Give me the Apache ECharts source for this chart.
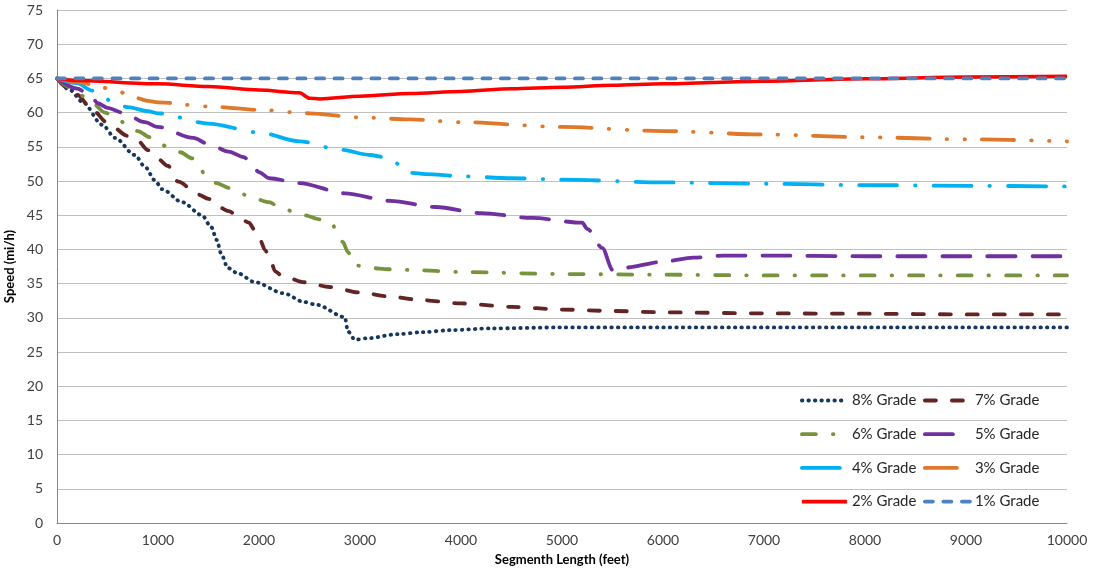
<!DOCTYPE html>
<html>
<head>
<meta charset="utf-8">
<script src="https://cdn.jsdelivr.net/npm/echarts@6/dist/echarts.min.js"></script>
<style>
html,body{margin:0;padding:0;background:#fff;}
#c{width:1098px;height:569px;}
</style>
</head>
<body>
<div id="c"></div>
<script>
// ---- data (x: segment length in feet, y: speed in mi/h) ----
const grade8 = [[0,65],[130,63.3],[250,61.6],[450,58.2],[575,56.3],[770,53.8],[870,52.1],[970,50.1],[1040,48.8],[1240,46.9],[1435,45.0],[1530,43.2],[1580,41.4],[1630,39.2],[1690,37.3],[1790,36.5],[1960,35.2],[2240,33.6],[2450,32.3],[2570,31.9],[2850,30.1],[2880,28.0],[2950,26.8],[3070,27.0],[3370,27.6],[3620,27.9],[3900,28.2],[4300,28.45],[5000,28.6],[6000,28.6],[7000,28.6],[8000,28.6],[9000,28.6],[10000,28.6]];
const grade7 = [[0,65],[200,62.6],[350,60.4],[500,58.5],[700,56.6],[800,55.9],[900,54.5],[1000,53.2],[1100,52.2],[1200,49.9],[1400,48.0],[1500,47.4],[1600,46.2],[1700,45.6],[1800,44.7],[1900,43.9],[1960,42.8],[2010,41.4],[2060,39.9],[2110,38.6],[2160,36.8],[2230,36.1],[2450,35.2],[2700,34.5],[3000,33.7],[3300,33.1],[3600,32.6],[4000,32.1],[4500,31.6],[5000,31.2],[5500,31.0],[6000,30.8],[7000,30.65],[8000,30.6],[9000,30.5],[10000,30.5]];
const grade6 = [[0,65],[150,63.5],[300,62.1],[350,61.4],[475,60.0],[600,59.0],[700,58.2],[800,57.3],[920,56.4],[1100,55.0],[1220,54.2],[1340,53.3],[1400,52.3],[1470,50.8],[1580,49.7],[1700,49.0],[1800,48.4],[1900,47.7],[2100,46.9],[2200,46.2],[2350,45.5],[2450,45.0],[2600,44.4],[2720,43.9],[2770,42.5],[2830,41.1],[2880,39.6],[2950,37.7],[3080,37.3],[3300,37.1],[3500,37.0],[4000,36.7],[5000,36.4],[6000,36.3],[7000,36.2],[8000,36.2],[9000,36.2],[10000,36.2]];
const grade5 = [[0,65],[200,63.5],[340,62.4],[400,61.4],[500,60.7],[650,60.0],[870,58.6],[1000,57.9],[1350,56.3],[1500,55.4],[1700,54.3],[1850,53.5],[1900,53.0],[2000,51.3],[2100,50.4],[2400,49.7],[2850,48.2],[3300,47.1],[3750,46.2],[4200,45.3],[4700,44.6],[5200,43.9],[5250,43.0],[5400,40.2],[5500,37.0],[5600,37.3],[6000,38.2],[6300,38.8],[6600,39.1],[7000,39.1],[8000,39.0],[9000,39.0],[10000,39.0]];
const grade4 = [[0,65],[200,64.3],[350,63.2],[450,62.4],[550,61.5],[700,60.8],[900,60.2],[1000,59.9],[1500,58.4],[2000,57.1],[2400,55.8],[2800,54.6],[3100,53.8],[3300,53.3],[3400,52.3],[3500,51.2],[3650,51.0],[4000,50.7],[4500,50.4],[5000,50.2],[6000,49.8],[7000,49.6],[8000,49.4],[9000,49.3],[10000,49.2]];
const grade3 = [[0,65],[250,64.4],[400,63.8],[600,63.2],[700,62.6],[800,62.1],[900,61.7],[1000,61.5],[1500,60.9],[2000,60.4],[2500,59.9],[3000,59.3],[3500,59.0],[4000,58.6],[5000,57.9],[6000,57.3],[7000,56.8],[8000,56.4],[9000,56.1],[10000,55.8]];
const grade2 = [[0,65],[200,64.7],[1000,64.2],[1500,63.8],[2000,63.3],[2400,62.9],[2500,62.1],[2600,62.0],[3000,62.4],[3500,62.8],[4000,63.1],[4500,63.5],[5000,63.7],[5500,64.0],[6000,64.2],[7000,64.6],[8000,64.95],[9000,65.2],[10000,65.3]];
const grade1 = [[0,65],[1000,65],[2000,65],[3000,65],[4000,65],[5000,65],[6000,65],[7000,65],[8000,65],[9000,65],[10000,65]];

const seriesNames = ['8% Grade','7% Grade','6% Grade','5% Grade','4% Grade','3% Grade','2% Grade','1% Grade'];
const seriesData = [grade8, grade7, grade6, grade5, grade4, grade3, grade2, grade1];
const xTicks = {min:0, max:10000, interval:1000};
const yTicks = {min:0, max:75, interval:5};

// ---- styles ----
const colors = ['#17375e','#632523','#77933c','#7030a0','#00b0f0','#e0782a','#ff0000','#4f81bd'];
const dashes = [[0.5,6],[11,16],[14,17,0.5,17],[28,17],[38,18,0.5,18],[32,17,0.5,17.5,0.5,17],'solid',[8,10.5]];
const widths = [3.8,3.8,3.8,3.8,3.8,3.8,3.5,3.8];

const FONT = 'Lato';

const series = seriesNames.map((n,i)=>({
  name:n, type:'line', data:seriesData[i], showSymbol:false, symbol:'none',
  smooth:0.3, smoothMonotone:'x', z: 2+i,
  lineStyle:{color:colors[i], width:widths[i], type:dashes[i], cap: dashes[i]==='solid'?'butt':'round', join:'round'},
  itemStyle:{color:colors[i]}
}));

const legendCommon = {
  orient:'vertical', itemWidth:45, itemHeight:14, itemGap:18.7, padding:0,
  itemStyle:{opacity:0},
  lineStyle:{width:3.8},
  textStyle:{fontFamily:FONT, fontSize:15, color:'#262626'}
};

const chart = echarts.init(document.getElementById('c'), null, {renderer:'canvas'});
chart.setOption({
  animation:false,
  backgroundColor:'#ffffff',
  grid:{left:57, right:31, top:10, bottom:46, containLabel:false, outerBoundsMode:'none'},
  legend:[
    Object.assign({}, legendCommon, {left:800, top:393, data:['8% Grade','6% Grade','4% Grade','2% Grade']}),
    Object.assign({}, legendCommon, {left:923, top:393, data:['7% Grade','5% Grade','3% Grade','1% Grade']})
  ],
  xAxis:{
    type:'value', min:xTicks.min, max:xTicks.max, interval:xTicks.interval,
    name:'Segmenth Length (feet)', nameLocation:'middle', nameGap:30,
    nameTextStyle:{fontFamily:FONT, fontSize:13, fontWeight:'bold', color:'#000'},
    axisLine:{show:true, onZero:false, lineStyle:{color:'#868686', width:1}},
    axisTick:{show:false},
    axisLabel:{fontFamily:FONT, fontSize:14, color:'#404040', margin:10, formatter:v=>String(v)},
    splitLine:{show:false}
  },
  yAxis:{
    type:'value', min:yTicks.min, max:yTicks.max, interval:yTicks.interval,
    name:'Speed (mi/h)', nameLocation:'middle', nameGap:30, nameRotate:90,
    nameTextStyle:{fontFamily:FONT, fontSize:13, fontWeight:'bold', color:'#000'},
    axisLine:{show:true, lineStyle:{color:'#868686', width:1}},
    axisTick:{show:false},
    axisLabel:{fontFamily:FONT, fontSize:14, color:'#404040', margin:14, formatter:v=>String(v)},
    splitLine:{show:true, lineStyle:{color:'#c0c0c0', width:1}}
  },
  series: series
});
</script>
</body>
</html>
